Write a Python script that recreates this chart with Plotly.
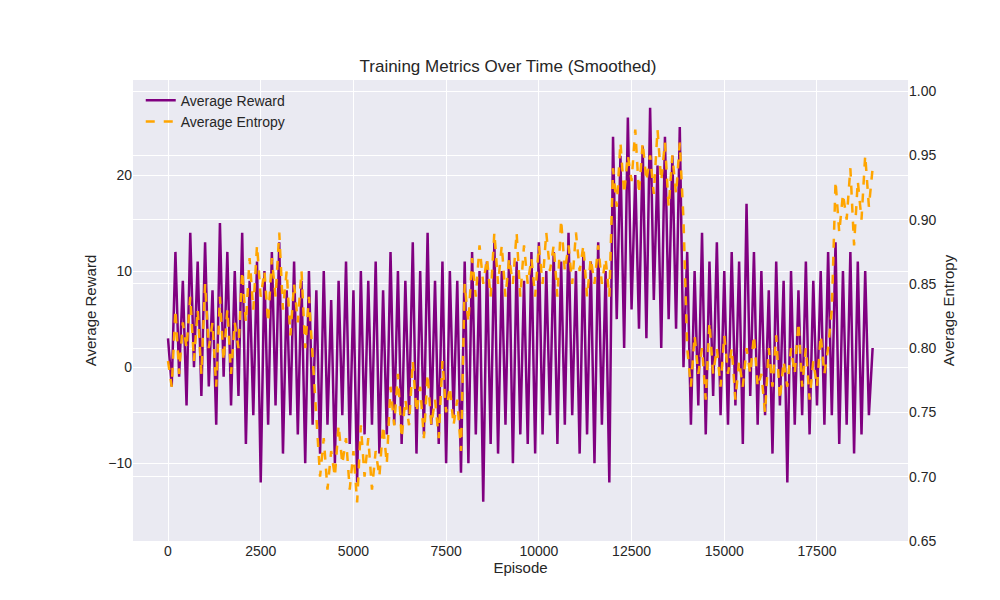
import plotly.graph_objects as go

episodes = list(range(0, 19100, 100))

reward = [
    3, -2, 12, -1, 9, -4, 14, 0, 11, -3, 13, -2, 8, -6, 15, -1, 12, -4, 10, -3,
    14, -8, 9, -5, 11, -12, 10, -6, 12, -4, 13, -9, 8, -5, 11, -7, 9, -10, 10, -6,
    8, -9, 10, -6, 7, -10, 9, -5, 11, -8, 8, -12, 10, -7, 9, -6, 11, -9, 8, -7,
    12, -6, 10, -8, 9, -5, 13, -9, 10, -7, 14, -6, 9, -8, 11, -10, 10, -5, 9, -11,
    11, -10, 12, -7, 10, -14, 11, -8, 13, -9, 10, -6, 12, -10, 11, -7, 9, -8, 12, -9,
    13, -7, 10, -5, 12, -8, 11, -6, 14, -5, 10, -9, 12, -7, 11, -10, 13, -6, 10, -12,
    24, 5, 22, 2, 26, 6, 20, 4, 23, 3, 27, 7, 21, 2, 24, 5, 22, 4, 25, 0,
    12, -6, 10, -4, 14, -7, 11, -3, 13, -5, 10, -6, 12, -4, 11, -8, 17, -3, 12, -6,
    10, -5, 8, -9, 11, -4, 9, -12, 10, -6, 8, -5, 11, -7, 9, -4, 10, -6, 12, -5,
    13, -8, 10, -6, 12, -9, 11, -7, 10, -5, 2,
]

entropy = [
    0.79, 0.77, 0.83, 0.78, 0.82, 0.80, 0.84, 0.79, 0.83, 0.78, 0.85, 0.80, 0.82, 0.77, 0.84, 0.79, 0.83, 0.78, 0.82, 0.80,
    0.86, 0.82, 0.87, 0.83, 0.88, 0.84, 0.86, 0.82, 0.87, 0.84, 0.89, 0.83, 0.86, 0.81, 0.85, 0.82, 0.86, 0.80, 0.84, 0.79,
    0.74, 0.70, 0.73, 0.69, 0.72, 0.70, 0.74, 0.71, 0.73, 0.69, 0.72, 0.68, 0.74, 0.70, 0.73, 0.69, 0.72, 0.70, 0.74, 0.71,
    0.77, 0.74, 0.78, 0.73, 0.76, 0.74, 0.79, 0.75, 0.77, 0.73, 0.78, 0.74, 0.76, 0.73, 0.79, 0.75, 0.77, 0.74, 0.76, 0.72,
    0.85, 0.82, 0.87, 0.84, 0.88, 0.85, 0.87, 0.84, 0.89, 0.85, 0.88, 0.84, 0.87, 0.85, 0.89, 0.84, 0.88, 0.85, 0.87, 0.84,
    0.88, 0.85, 0.89, 0.86, 0.88, 0.84, 0.90, 0.86, 0.88, 0.85, 0.89, 0.86, 0.88, 0.84, 0.87, 0.85, 0.88, 0.85, 0.87, 0.84,
    0.94, 0.91, 0.96, 0.92, 0.95, 0.93, 0.97, 0.92, 0.96, 0.93, 0.95, 0.92, 0.97, 0.93, 0.96, 0.91, 0.95, 0.92, 0.96, 0.90,
    0.80, 0.77, 0.81, 0.78, 0.80, 0.76, 0.82, 0.78, 0.80, 0.77, 0.81, 0.78, 0.80, 0.76, 0.79, 0.77, 0.80, 0.78, 0.81, 0.77,
    0.78, 0.75, 0.80, 0.77, 0.81, 0.76, 0.79, 0.77, 0.80, 0.78, 0.82, 0.77, 0.80, 0.76, 0.79, 0.77, 0.81, 0.78, 0.80, 0.83,
    0.93, 0.89, 0.92, 0.90, 0.94, 0.88, 0.93, 0.90, 0.95, 0.91, 0.94,
]

x_ticks = [0, 2500, 5000, 7500, 10000, 12500, 15000, 17500]

fig = go.Figure()
fig.add_trace(go.Scatter(x=episodes, y=reward, mode="lines", name="Average Reward",
                         line=dict(color="purple", width=2.5)))
fig.add_trace(go.Scatter(x=episodes, y=entropy, mode="lines", name="Average Entropy",
                         yaxis="y2", line=dict(color="orange", width=2.5, dash="dash")))

axis_font = dict(family="Liberation Sans", size=14, color="#262626")
title_font = dict(family="Liberation Sans", size=15, color="#262626")
fig.update_layout(
    width=1000, height=600,
    paper_bgcolor="white", plot_bgcolor="#EAEAF2",
    margin=dict(l=125, r=100, t=72, b=67, autoexpand=False),
    font=dict(family="Liberation Sans", size=14, color="#262626"),
    title=dict(text="Training Metrics Over Time (Smoothed)", x=0.5, xanchor="center",
               y=0.903, yanchor="middle", font=dict(size=17)),
    showlegend=True,
    legend=dict(x=0.01, y=0.99, xanchor="left", yanchor="top", bgcolor="rgba(0,0,0,0)",
                font=dict(size=14), tracegroupgap=2),
    xaxis=dict(title=dict(text="Episode", standoff=4, font=title_font), range=[-944, 19954],
               tickvals=x_ticks, ticktext=[str(t) for t in x_ticks], automargin=False,
               showgrid=True, gridcolor="white", gridwidth=1.2, zeroline=False,
               ticks="", showline=False, tickfont=axis_font),
    yaxis=dict(title=dict(text="Average Reward", standoff=8, font=title_font), range=[-18.1, 29.9],
               tickvals=[-10, 0, 10, 20], ticktext=["\u221210", "0", "10", "20"], automargin=False,
               showgrid=True, gridcolor="white", gridwidth=1.2, zeroline=False,
               ticks="", tickfont=axis_font),
    yaxis2=dict(title=dict(text="Average Entropy", standoff=8, font=title_font), overlaying="y",
                side="right", automargin=False,
                range=[0.65, 1.0086], tickvals=[0.65, 0.70, 0.75, 0.80, 0.85, 0.90, 0.95, 1.00],
                tickformat=".2f", showgrid=True, gridcolor="white", gridwidth=1.2,
                zeroline=False, ticks="", tickfont=axis_font),
)

fig.write_html("out.html")
